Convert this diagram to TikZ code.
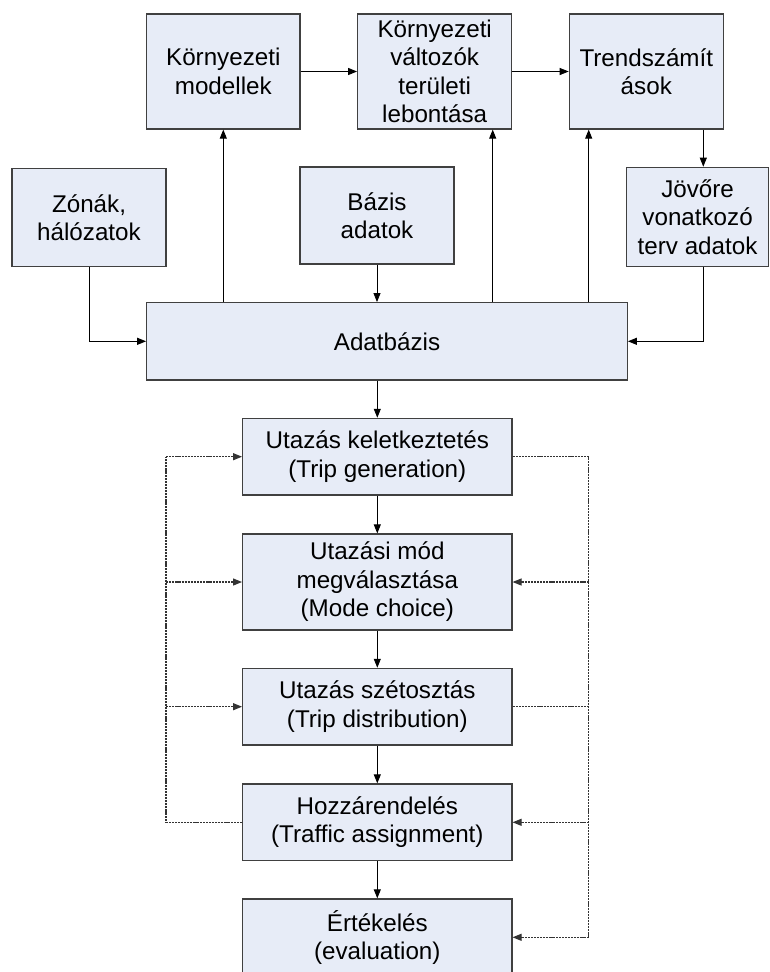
\documentclass[tikz,border=0pt]{standalone}
\usepackage{fontspec}
\setmainfont{Liberation Sans}
\usetikzlibrary{arrows.meta,calc}
\definecolor{boxfill}{RGB}{231,236,247}
\definecolor{boxline}{RGB}{64,64,64}
\begin{document}
\begin{tikzpicture}[x=1pt,y=-1pt,
  box/.style={draw=boxline, line width=1.2pt, fill=boxfill, rectangle, inner sep=0pt,
    align=center, font=\fontsize{24.2}{28.5}\selectfont},
  arr/.style={line width=0.9pt, -{Triangle[length=9pt,width=7pt]}},
  dsh/.style={line width=1.1pt, dash pattern=on 2.2pt off 0.9pt, draw=black!80},
  darr/.style={dsh, -{Triangle[length=9pt,width=7pt]}}]
\useasboundingbox (0,0) rectangle (769,972);
\clip (0,0) rectangle (769,972);
% top row
\node[box, minimum width=153.3pt, minimum height=115pt] (km) at (223.3,71.5) {Környezeti\\modellek};
\node[box, minimum width=154pt, minimum height=115pt] (kv) at (434.7,71.5) {Környezeti\\változók\\területi\\lebontása};
\node[box, minimum width=154pt, minimum height=115pt] (tr) at (646.3,71.5) {Trendszámít\\ások};
% second row
\node[box, minimum width=154pt, minimum height=98.4pt] (zh) at (89,217.5) {Zónák,\\hálózatok};
\node[box, minimum width=154pt, minimum height=97pt] (ba) at (377,215.5) {Bázis\\adatok};
\node[box, minimum width=141.8pt, minimum height=99.4pt] (jv) at (697.6,217) {Jövőre\\vonatkozó\\terv adatok};
% database
\node[box, minimum width=480.6pt, minimum height=77.3pt] (db) at (387,341.3) {Adatbázis};
% chain
\node[box, minimum width=269.3pt, minimum height=76.7pt] (u1) at (377.3,456.7) {Utazás keletkeztetés\\(Trip generation)};
\node[box, minimum width=269.3pt, minimum height=96pt] (u2) at (377.3,582) {Utazási mód\\megválasztása\\(Mode choice)};
\node[box, minimum width=269.3pt, minimum height=76.7pt] (u3) at (377.3,706.7) {Utazás szétosztás\\(Trip distribution)};
\node[box, minimum width=269.3pt, minimum height=76.7pt] (u4) at (377.3,822.3) {Hozzárendelés\\(Traffic assignment)};
\node[box, minimum width=269.3pt, minimum height=76.7pt] (u5) at (377.3,937.3) {Értékelés\\(evaluation)};
% helper x positions
\coordinate (xkv) at (492.7,0);
\coordinate (xtr) at (588.7,0);
\coordinate (xjv) at (703.3,0);
\coordinate (xL) at (166,0);
\coordinate (xR) at (588.7,0);
% top row arrows
\draw[arr] (km.east) -- (kv.west);
\draw[arr] (kv.east) -- (tr.west);
\draw[arr] (xjv |- tr.south) -- (xjv |- jv.north);
% database feeds
\draw[arr] (zh.south) |- (db.west);
\draw[arr] (xjv |- jv.south) |- (db.east);
\draw[arr] (ba.south) -- (ba.south |- db.north);
\draw[arr] (km.south |- db.north) -- (km.south);
\draw[arr] (xkv |- db.north) -- (xkv |- kv.south);
\draw[arr] (xtr |- db.north) -- (xtr |- tr.south);
\draw[arr] (db.south -| u1.north) -- (u1.north);
% chain
\draw[arr] (u1.south) -- (u2.north);
\draw[arr] (u2.south) -- (u3.north);
\draw[arr] (u3.south) -- (u4.north);
\draw[arr] (u4.south) -- (u5.north);
% left feedback
\draw[dsh] (u4.west) -- (xL |- u4.west) -- (xL |- u1.west);
\draw[darr] (xL |- u1.west) -- (u1.west);
\draw[darr] (xL |- u2.west) -- (u2.west);
\draw[darr] (xL |- u3.west) -- (u3.west);
% right feedback
\draw[dsh] (u1.east) -- (xR |- u1.east) -- (xR |- u5.east);
\draw[darr] (xR |- u5.east) -- (u5.east);
\draw[darr] (xR |- u2.east) -- (u2.east);
\draw[darr] (xR |- u4.east) -- (u4.east);
\draw[dsh] (u3.east) -- (xR |- u3.east);
\end{tikzpicture}
\end{document}
